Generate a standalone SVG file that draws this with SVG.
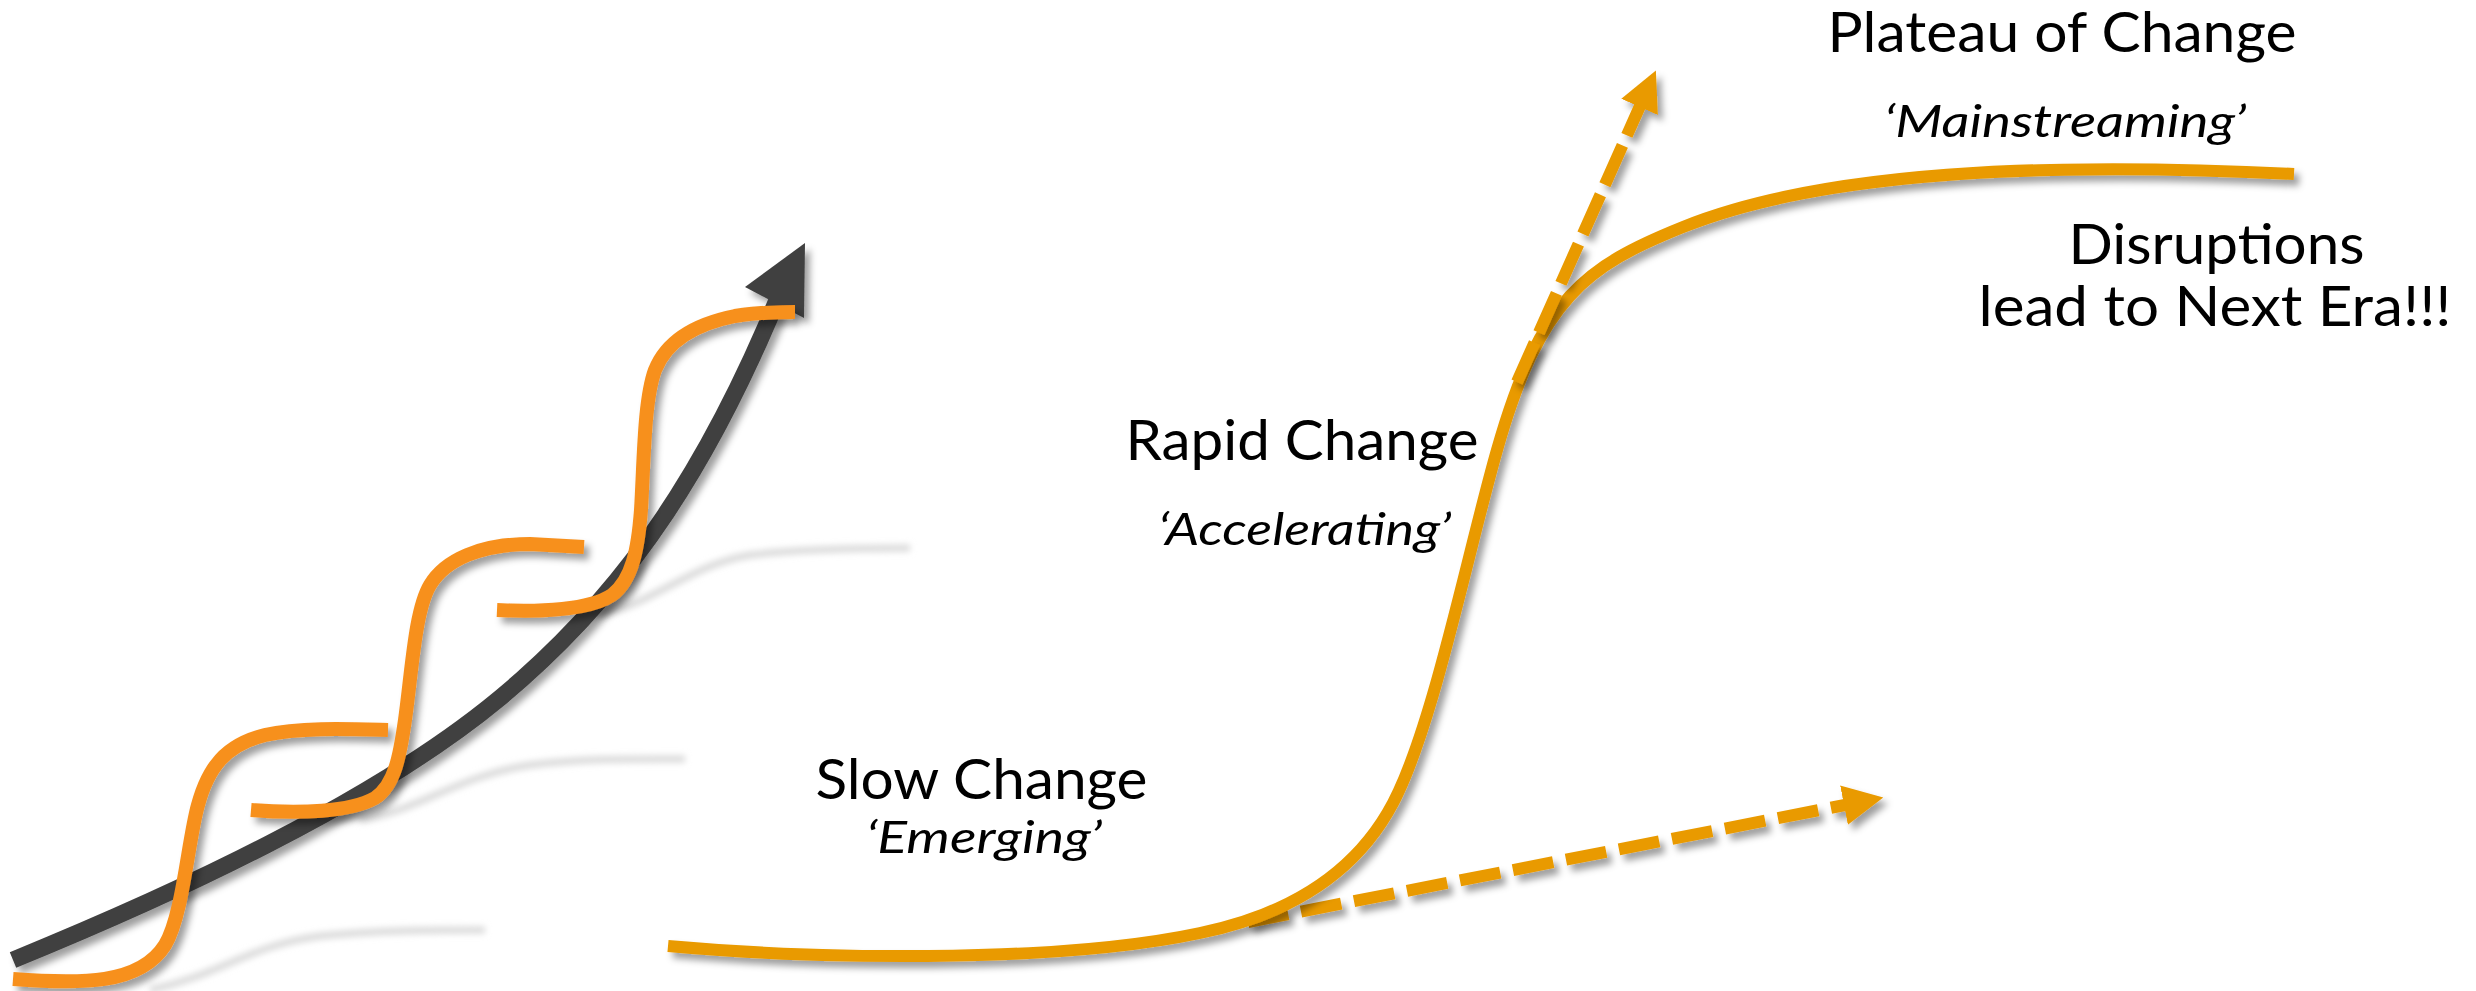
<svg xmlns="http://www.w3.org/2000/svg" width="2476" height="991" viewBox="0 0 2476 991">
<defs>
  <filter id="shadow" filterUnits="userSpaceOnUse" x="0" y="0" width="2476" height="991">
    <feDropShadow dx="5" dy="6" stdDeviation="3.5" flood-color="#000" flood-opacity="0.38"/>
  </filter>
  <filter id="soft" filterUnits="userSpaceOnUse" x="0" y="0" width="2476" height="991">
    <feGaussianBlur stdDeviation="3"/>
  </filter>
  <marker id="head" markerUnits="userSpaceOnUse" viewBox="0 0 40 40" markerWidth="40" markerHeight="40" refX="1" refY="20" orient="auto">
    <path d="M0,0 L40,20 L0,40 Z" fill="#E99A00"/>
  </marker>
</defs>
<style>
  .ghost{fill:none;stroke:#dadada;stroke-width:7;filter:url(#soft)}
  .dark{fill:none;stroke:#404040;stroke-width:17}
  .step{fill:none;stroke:#F7901E;stroke-width:14;filter:url(#shadow)}
  .curve{fill:none;stroke:#E99A00;stroke-width:12;filter:url(#shadow)}
  .dash{fill:none;stroke:#E99A00;stroke-width:12;filter:url(#shadow);marker-end:url(#head)}
  .lbl{font-family:Lato,"Open Sans","DejaVu Sans",sans-serif;font-size:57px;fill:#000}
  .sub{font-family:Lato,"Open Sans","DejaVu Sans",sans-serif;font-size:44px;font-style:italic;fill:#000}
</style>
<rect width="2476" height="991" fill="#fff"/>

<g id="ghost-curves">
  <path class="ghost" d="M150,990 C220,975 250,945 320,936 C380,930 440,930 485,930"/>
  <path class="ghost" d="M360,820 C420,810 460,775 530,765 C590,758 640,759 685,759"/>
  <path class="ghost" d="M600,615 C660,600 690,565 750,555 C800,549 860,548 910,548"/>
</g>

<g id="growth-arrow" filter="url(#shadow)">
  <path class="dark" d="M13,960 C160,900 370,806 500,698 C608,608 698,494 780,293"/>
  <polygon points="805,243 745,287 804,318" fill="#404040"/>
</g>

<g id="step-curves">
  <path class="step" d="M13,979 C80,984 140,985 165,945 C183,915 188,840 198,805 C208,768 225,745 265,735 C300,727 350,729 388,730"/>
  <path class="step" d="M251,810 C300,814 350,812 375,798 C395,785 400,755 405,720 C412,670 415,610 430,585 C445,560 480,544 530,544 L584,547"/>
  <path class="step" d="M497,610 C540,612 590,610 612,595 C632,580 638,550 641,510 C644,460 644,400 655,370 C665,345 690,325 735,316 C760,312 780,312 795,312"/>
</g>

<g id="connectors">
  <path id="trend-arrow" class="dash" stroke-dasharray="41 13" d="M1248,922 L1845,805"/>
</g>

<g id="s-curve">
  <path class="curve" d="M668,946 C800,958 1050,965 1200,933 C1287,915 1355,875 1393,803 C1433,727 1467,555 1497,450 C1540,298 1586,266 1683,227 C1822,171 2044,161.5 2294,174"/>
</g>

<g id="connectors-top">
  <path id="disruption-arrow" class="dash" stroke-dasharray="43 11" d="M1517,382 L1640,106"/>
</g>

<g id="label-slow">
  <text class="lbl" x="815.5" y="799" textLength="332" lengthAdjust="spacingAndGlyphs">Slow Change</text>
  <text class="sub" x="866" y="853" textLength="236" lengthAdjust="spacingAndGlyphs">‘Emerging’</text>
</g>
<g id="label-rapid">
  <text class="lbl" x="1125.5" y="460" textLength="353" lengthAdjust="spacingAndGlyphs">Rapid Change</text>
  <text class="sub" x="1158" y="545" textLength="293" lengthAdjust="spacingAndGlyphs">‘Accelerating’</text>
</g>
<g id="label-plateau">
  <text class="lbl" x="1827.5" y="52" textLength="469" lengthAdjust="spacingAndGlyphs">Plateau of Change</text>
  <text class="sub" x="1884" y="137" textLength="362" lengthAdjust="spacingAndGlyphs">‘Mainstreaming’</text>
</g>
<g id="label-disruptions">
  <text class="lbl" x="2068.5" y="263.5" textLength="296" lengthAdjust="spacingAndGlyphs">Disruptions</text>
  <text class="lbl" x="1978.5" y="326" textLength="473" lengthAdjust="spacingAndGlyphs">lead to Next Era!!!</text>
</g>
</svg>
